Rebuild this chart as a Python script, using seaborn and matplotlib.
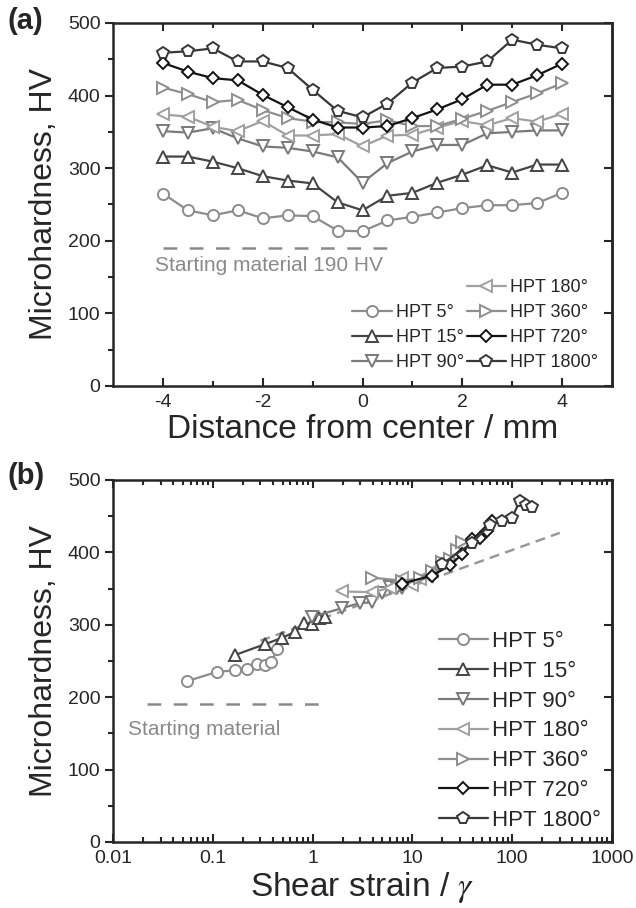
import numpy as np
import pandas as pd
import matplotlib
matplotlib.use("Agg")
import matplotlib.pyplot as plt
import seaborn as sns
from matplotlib.lines import Line2D
from matplotlib.ticker import MultipleLocator, LogLocator, NullFormatter, FixedLocator

sns.set_style("ticks")
plt.rcParams['font.family'] = ['Liberation Sans', 'DejaVu Sans']
plt.rcParams['mathtext.fontset'] = 'stix'
plt.rcParams['axes.unicode_minus'] = False

#%% data
labels = ['HPT 5°', 'HPT 15°', 'HPT 90°', 'HPT 180°', 'HPT 360°', 'HPT 720°', 'HPT 1800°']
markers = ['o', '^', 'v', '<', '>', 'D', 'p']
colors = ['#8c8c8c', '#454545', '#7a7a7a', '#a0a0a0', '#8e8e8e', '#141414', '#383838']

# (a) hardness profile across the disc
dist = [-4, -3.5, -3, -2.5, -2, -1.5, -1, -0.5, 0, 0.5, 1, 1.5, 2, 2.5, 3, 3.5, 4]
hv_5 = [265, 242, 235, 242, 231, 235, 234, 214, 213, 228, 233, 239, 245, 249, 249, 252, 266]
hv_15 = [316, 316, 309, 300, 289, 283, 279, 253, 242, 262, 266, 280, 291, 304, 294, 305, 305]
hv_90 = [351, 349, 355, 341, 330, 328, 323, 315, 280, 307, 323, 332, 332, 348, 350, 352, 352]
hv_180 = [374, 371, 357, 351, 365, 345, 345, 347, 330, 345, 346, 356, 365, 359, 369, 364, 375]
hv_360 = [411, 402, 391, 394, 380, 369, 364, 363, 361, 366, 358, 358, 368, 379, 391, 403, 417]
hv_720 = [445, 433, 424, 421, 401, 384, 367, 356, 356, 358, 369, 381, 395, 415, 415, 428, 444]
hv_1800 = [459, 461, 465, 447, 447, 438, 408, 379, 370, 389, 418, 438, 440, 447, 477, 470, 465]
profiles = [hv_5, hv_15, hv_90, hv_180, hv_360, hv_720, hv_1800]

# (b) hardness vs shear strain
g_5 = [0.055, 0.11, 0.165, 0.22, 0.275, 0.33, 0.385, 0.44]
h_5 = [222, 235, 237, 239, 246, 244, 248, 266]
g_15 = [0.165, 0.33, 0.495, 0.66, 0.825, 0.99, 1.16, 1.32]
h_15 = [258, 273, 282, 290, 302, 301, 310, 311]
g_90 = [0.99, 1.98, 2.97, 3.96, 4.95, 5.94, 6.93, 7.92]
h_90 = [311, 323, 330, 331, 344, 352, 351, 351]
g_180 = [1.98, 3.96, 5.94, 7.92, 9.9, 11.9, 13.9, 15.8]
h_180 = [346, 345, 351, 365, 355, 363, 368, 374]
g_360 = [3.96, 7.92, 11.9, 15.8, 19.8, 23.8, 27.7, 31.7]
h_360 = [365, 361, 364, 374, 387, 391, 403, 414]
g_720 = [7.92, 15.8, 23.8, 31.7, 39.6, 47.5, 55.4, 63.4]
h_720 = [357, 368, 382, 398, 418, 420, 430, 444]
g_1800 = [19.8, 39.6, 59.4, 79.2, 99, 119, 139, 158]
h_1800 = [384, 413, 438, 444, 447, 471, 466, 462]
strains = [g_5, g_15, g_90, g_180, g_360, g_720, g_1800]
hards = [h_5, h_15, h_90, h_180, h_360, h_720, h_1800]

start_hv = 190
start_x_a = [-4, 0.5]
start_x_b = [0.022, 1.15]
fit_g = [0.3, 300]
fit_h = [278, 427]

grey_txt = '#8a8a8a'

#%% figure
fig = plt.figure(figsize=(6.36, 9.08), dpi=100)
ax1 = fig.add_axes([0.1777, 0.5749, 0.7846, 0.3998])
ax2 = fig.add_axes([0.1777, 0.0727, 0.7846, 0.3987])

line_kw = dict(markerfacecolor='white', markeredgewidth=1.4,
               linewidth=1.6, estimator=None, sort=False, legend=False)
msize = {'o': 8, '^': 8.5, 'v': 8.5, '<': 8.5, '>': 8.5, 'D': 6.5, 'p': 8.5}

for lab, m, c, hv in zip(labels, markers, colors, profiles):
    sns.lineplot(x=dist, y=hv, ax=ax1, color=c, marker=m, markeredgecolor=c,
                 markersize=msize[m], label=lab, **line_kw)

ax1.plot(start_x_a, [start_hv, start_hv], color=grey_txt, lw=1.8, dashes=(5.5, 5))
ax1.text(-4.15, 166, 'Starting material 190 HV', color=grey_txt, fontsize=15,
         ha='left', va='center')

for lab, m, c, g, h in zip(labels, markers, colors, strains, hards):
    sns.lineplot(x=g, y=h, ax=ax2, color=c, marker=m, markeredgecolor=c,
                 markersize=msize[m], label=lab, **line_kw)

ax2.plot(start_x_b, [start_hv, start_hv], color=grey_txt, lw=1.8, dashes=(5.5, 5))
ax2.plot(fit_g, fit_h, color='#999999', lw=1.8, dashes=(4, 2.5), zorder=1)
ax2.text(0.0141, 156, 'Starting material', color=grey_txt, fontsize=15,
         ha='left', va='center')

#%% axes
ax1.set_xlim(-5, 5)
ax1.set_ylim(0, 500)
ax1.xaxis.set_major_locator(FixedLocator([-4, -2, 0, 2, 4]))
ax1.xaxis.set_minor_locator(FixedLocator([-4, -3, -1, 1, 3]))
ax1.set_xlabel('Distance from center / mm', fontsize=24, labelpad=2)

ax2.set_xscale('log')
ax2.set_xlim(0.01, 1000)
ax2.set_ylim(0, 500)
ax2.xaxis.set_minor_locator(LogLocator(base=10, subs=np.arange(2, 10), numticks=10))
ax2.xaxis.set_minor_formatter(NullFormatter())
ax2.set_xticks([0.01, 0.1, 1, 10, 100, 1000])
ax2.set_xticklabels(['0.01', '0.1', '1', '10', '100', '1000'])
ax2.set_xlabel('Shear strain / $\\gamma$', fontsize=24, labelpad=2)

for ax in (ax1, ax2):
    ax.yaxis.set_major_locator(MultipleLocator(100))
    ax.yaxis.set_minor_locator(MultipleLocator(50))
    ax.set_ylabel('Microhardness, HV', fontsize=23, labelpad=6)
    for sp in ax.spines.values():
        sp.set_linewidth(1.8)
        sp.set_visible(True)
    ax.tick_params(axis='x', which='both', direction='in', top=True, bottom=True,
                   labelsize=14, width=1.5, pad=6)
    ax.tick_params(axis='x', which='major', length=6)
    ax.tick_params(axis='x', which='minor', length=3.5)
    ax.tick_params(axis='y', which='both', direction='out', left=True, right=False,
                   labelsize=14, width=1.5, pad=3)
    ax.tick_params(axis='y', which='major', length=6)
    ax.tick_params(axis='y', which='minor', length=3.5)
    sec = ax.secondary_yaxis('right')
    sec.yaxis.set_major_locator(MultipleLocator(100))
    sec.tick_params(axis='y', which='major', direction='in', length=6, width=1.5,
                    labelright=False)
    sec.tick_params(axis='y', which='minor', length=0)
    sec.spines['right'].set_linewidth(1.8)

# legends
h1, l1 = ax1.get_legend_handles_labels()
blank = Line2D([], [], linestyle='none', marker=None)
ax1.legend([blank] + h1, [''] + l1, ncol=2, loc='lower right',
           bbox_to_anchor=(0.972, 0.04), frameon=False, fontsize=13,
           handlelength=2.2, handletextpad=0.2, columnspacing=0.15,
           labelspacing=0.45, borderpad=0, borderaxespad=0)

h2, l2 = ax2.get_legend_handles_labels()
ax2.legend(h2, l2, loc='lower right', bbox_to_anchor=(0.978, 0.03),
           frameon=False, fontsize=16, handlelength=2.2, handletextpad=0.2,
           labelspacing=0.4, borderpad=0, borderaxespad=0)

fig.text(0.012, 0.977, '(a)', fontsize=21, fontweight='bold', va='center', ha='left')
fig.text(0.012, 0.476, '(b)', fontsize=21, fontweight='bold', va='center', ha='left')

fig.savefig('out.png', dpi=100)
